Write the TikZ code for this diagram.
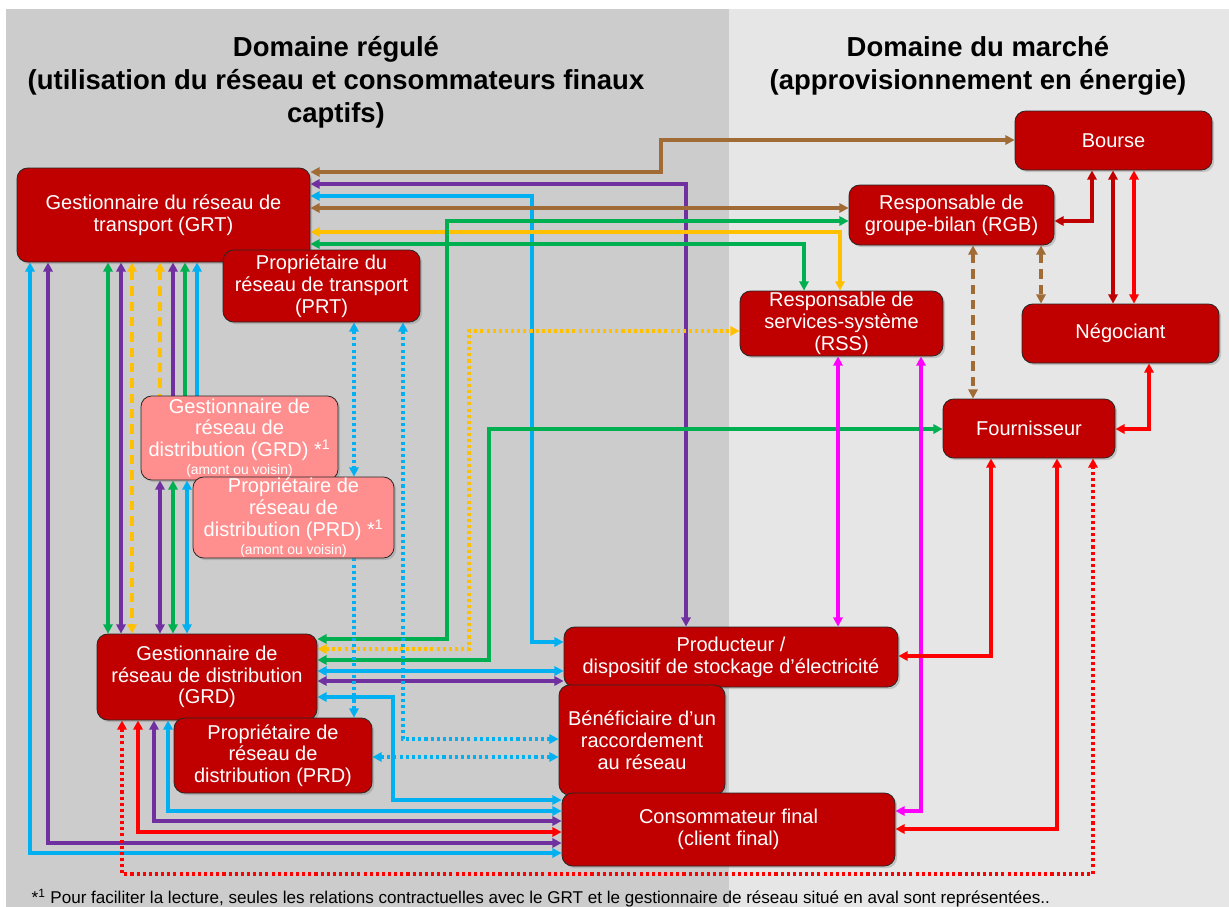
\documentclass[tikz,border=0pt]{standalone}
\usepackage{fontspec}
\setmainfont{Liberation Sans}
\usetikzlibrary{arrows.meta,shadows}
\definecolor{bgdark}{HTML}{CCCCCC}
\definecolor{bglight}{HTML}{E6E6E6}
\definecolor{dred}{HTML}{C00000}
\definecolor{pinkc}{HTML}{FF8F8F}
\definecolor{cbrown}{HTML}{A06B35}
\definecolor{cpurple}{HTML}{7030A0}
\definecolor{cblue}{HTML}{00B0F0}
\definecolor{cgreen}{HTML}{00B050}
\definecolor{cyellow}{HTML}{FFC000}
\definecolor{cmag}{HTML}{FF00FF}
\definecolor{cred}{HTML}{FF0000}
\pgfdeclarelayer{bg}
\pgfdeclarelayer{lines}
\pgfsetlayers{bg,lines,main}
\begin{document}
\begin{tikzpicture}[x=0.75pt,y=-0.75pt,
  box/.style={draw=black!85, line width=0.6pt, fill=dred, rounded corners=8pt,
    text=white, align=center, inner sep=0pt,
    font=\fontsize{15}{16.3}\selectfont,
    drop shadow={opacity=0.35, shadow xshift=1.6pt, shadow yshift=-1.6pt}},
  pbox/.style={box, fill=pinkc},
  ln/.style={line width=2.3pt},
  dt/.style={dash pattern=on 2.3pt off 2.3pt},
  ds/.style={dash pattern=on 7pt off 4.5pt},
  >={Triangle[length=7pt,width=7pt]}]
\useasboundingbox (0,0) rectangle (1229,907);
\begin{pgfonlayer}{bg}
\fill[white] (0,0) rectangle (1229,907);
\fill[bgdark] (6,9) rectangle (729,907);
\fill[bglight] (729,9) rectangle (1229,907);
\end{pgfonlayer}

% titles
\node[font=\bfseries\fontsize{20.6}{24.75}\selectfont, align=center] (t1) at (336,82)
  {Domaine régulé\\(utilisation du réseau et consommateurs finaux\\captifs)};
\node[font=\bfseries\fontsize{20.6}{24.75}\selectfont, align=center] (t2) at (978,66)
  {Domaine du marché\\(approvisionnement en énergie)};

% boxes
\node[box, minimum width=219.75pt, minimum height=70.5pt] (grt) at (163.5,215) {Gestionnaire du réseau de\\transport (GRT)};
\node[box, minimum width=147.75pt, minimum height=54pt] (prt) at (321.5,286) {Propriétaire du\\réseau de transport\\(PRT)};
\node[pbox, minimum width=147.75pt, minimum height=63pt] (grda) at (239.5,438) {Gestionnaire de\\réseau de\\distribution (GRD) *\textsuperscript{1}\\[-3pt]{\fontsize{10.4}{11}\selectfont (amont ou voisin)}};
\node[pbox, minimum width=150.75pt, minimum height=60.75pt] (prda) at (293.5,517.5) {Propriétaire de\\réseau de\\distribution (PRD) *\textsuperscript{1}\\[-3pt]{\fontsize{10.4}{11}\selectfont (amont ou voisin)}};
\node[box, minimum width=165pt, minimum height=64.5pt] (grd) at (207,677) {Gestionnaire de\\réseau de distribution\\(GRD)};
\node[box, minimum width=148.5pt, minimum height=56.25pt] (prd) at (273,755.5) {Propriétaire de\\réseau de\\distribution (PRD)};
\node[box, minimum width=250.5pt, minimum height=45pt] (prod) at (731,657) {Producteur /\\dispositif de stockage d’électricité};
\node[box, minimum width=124.5pt, minimum height=82.5pt] (ben) at (642,740) {Bénéficiaire d’un\\raccordement\\au réseau};
\node[box, minimum width=249.75pt, minimum height=54.75pt] (cons) at (728.5,829.5) {Consommateur final\\(client final)};
\node[box, minimum width=147.75pt, minimum height=44.25pt] (bourse) at (1113.5,140.5) {Bourse};
\node[box, minimum width=153.75pt, minimum height=45pt] (rgb) at (951.5,215) {Responsable de\\groupe-bilan (RGB)};
\node[box, minimum width=152.25pt, minimum height=48.75pt] (rss) at (841.5,323.5) {Responsable de\\services-système\\(RSS)};
\node[box, minimum width=147.75pt, minimum height=44.25pt] (neg) at (1120.5,333.5) {Négociant};
\node[box, minimum width=129pt, minimum height=44.25pt] (four) at (1029,428.5) {Fournisseur};

% footnote
\node[anchor=west, font=\fontsize{12.8}{14}\selectfont] (fn) at (27,898)
  {*\textsuperscript{1} Pour faciliter la lecture, seules les relations contractuelles avec le GRT et le gestionnaire de réseau situé en aval sont représentées..};

\begin{pgfonlayer}{lines}
% from GRT right side
\draw[ln,cbrown,<->] (grt.east |- 0,172) -| (661,140) -- (bourse.west |- 0,140);
\draw[ln,cpurple,<->] (grt.east |- 0,184) -| (686,0 |- prod.north);
\draw[ln,cblue,<->] (grt.east |- 0,196) -| (532,642) -- (prod.west |- 0,642);
\draw[ln,cbrown,<->] (grt.east |- 0,208) -- (rgb.west |- 0,208);
\draw[ln,cyellow,<->] (grt.east |- 0,232) -| (840,0 |- rss.north);
\draw[ln,cgreen,<->] (grt.east |- 0,244) -| (804,0 |- rss.north);
% from GRD right side
\draw[ln,cgreen,<->] (grd.east |- 0,639) -| (447,221) -- (rgb.west |- 0,221);
\draw[ln,cyellow,dt,<->] (grd.east |- 0,649) -| (469,331) -- (rss.west |- 0,331);
\draw[ln,cgreen,<->] (grd.east |- 0,660) -| (489,429) -- (four.west |- 0,429);
\draw[ln,cblue,<->] (grd.east |- 0,671) -- (prod.west |- 0,671);
\draw[ln,cpurple,<->] (grd.east |- 0,681) -- (prod.west |- 0,681);
\draw[ln,cblue,<->] (grd.east |- 0,697) -| (393,800) -- (cons.west |- 0,800);
% PRT dotted
\draw[ln,cblue,dt,<->] (354,0 |- prt.south) -- (354,0 |- prda.north);
\draw[ln,cblue,dt,->] (354,0 |- prda.south) -- (354,0 |- prd.north);
\draw[ln,cblue,dt,<->] (403,0 |- prt.south) |- (ben.west |- 0,739);
\draw[ln,cblue,dt,<->] (prd.east |- 0,757) -- (ben.west |- 0,757);
% bottom lines to consumer
\draw[ln,cblue,<->] (168,0 |- grd.south) |- (cons.west |- 0,811);
\draw[ln,cpurple,<->] (154,0 |- grd.south) |- (cons.west |- 0,821);
\draw[ln,cred,<->] (138,0 |- grd.south) |- (cons.west |- 0,832);
\draw[ln,cpurple,<->] (48,0 |- grt.south) |- (cons.west |- 0,843);
\draw[ln,cblue,<->] (30,0 |- grt.south) |- (cons.west |- 0,853);
\draw[ln,cred,dt,<->] (122,0 |- grd.south) |- (1093,874) -- (1093,0 |- four.south);
% GRT - GRD verticals
\draw[ln,cgreen,<->] (108,0 |- grt.south) -- (108,0 |- grd.north);
\draw[ln,cpurple,<->] (121,0 |- grt.south) -- (121,0 |- grd.north);
\draw[ln,cyellow,ds,<->] (132,0 |- grt.south) -- (132,0 |- grd.north);
% GRT - GRD amont
\draw[ln,cyellow,ds,<-] (160,0 |- grt.south) -- (160,0 |- grda.north);
\draw[ln,cpurple,<-] (173,0 |- grt.south) -- (173,0 |- grda.north);
\draw[ln,cgreen,<-] (185,0 |- grt.south) -- (185,0 |- grda.north);
\draw[ln,cblue,<-] (197,0 |- grt.south) -- (197,0 |- grda.north);
% GRD amont - GRD
\draw[ln,cpurple,<->] (160,0 |- grda.south) -- (160,0 |- grd.north);
\draw[ln,cgreen,<->] (173,0 |- grda.south) -- (173,0 |- grd.north);
\draw[ln,cblue,<->] (187,0 |- grda.south) -- (187,0 |- grd.north);
% market side
\draw[ln,cmag,<->] (838,0 |- rss.south) -- (838,0 |- prod.north);
\draw[ln,cmag,<->] (921,0 |- rss.south) |- (cons.east |- 0,811);
\draw[ln,cred,<->] (991,0 |- four.south) |- (prod.east |- 0,656);
\draw[ln,cred,<->] (1057,0 |- four.south) |- (cons.east |- 0,829);
\draw[ln,dred,<->] (rgb.east |- 0,221) -| (1092,0 |- bourse.south);
\draw[ln,dred,<->] (1113,0 |- bourse.south) -- (1113,0 |- neg.north);
\draw[ln,cred,<->] (1134,0 |- bourse.south) -- (1134,0 |- neg.north);
\draw[ln,cbrown,ds,<->] (973,0 |- rgb.south) -- (973,0 |- four.north);
\draw[ln,cbrown,ds,<->] (1041,0 |- rgb.south) -- (1041,0 |- neg.north);
\draw[ln,cred,<->] (four.east |- 0,429) -| (1149,0 |- neg.south);
\end{pgfonlayer}
\end{tikzpicture}
\end{document}
